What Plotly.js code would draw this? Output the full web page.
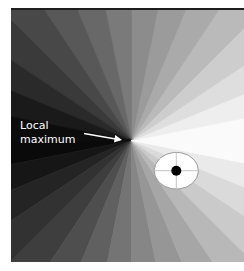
<!DOCTYPE html>
<html>
<head>
<meta charset="utf-8">
<script src="https://cdn.plot.ly/plotly-3.0.1.min.js"></script>
<style>html,body{margin:0;padding:0;background:#fff;}#chart{width:244px;height:271px;}</style>
</head>
<body>
<div id="chart"></div>
<script>
// ---- data (panel units = pixels, origin bottom-left) ----
const sectorStartDeg = [0, 11.25, 22.5, 33.75, 45, 56.25, 67.5, 78.75,
  90, 101.25, 112.5, 123.75, 135, 146.25, 157.5, 168.75,
  180, 191.25, 202.5, 213.75, 225, 236.25, 247.5, 258.75,
  270, 281.25, 292.5, 303.75, 315, 326.25, 337.5, 348.75];
const sectorSpanDeg = 11.25;
const sectorGray = [250, 238, 222, 205, 186, 170, 155, 140,
  122, 104, 88, 72, 58, 42, 26, 12,
  10, 22, 36, 50, 62, 78, 96, 116,
  134, 150, 166, 184, 202, 218, 234, 250];
const maxPointX = [120.5];
const maxPointY = [121.5];
const ellipseCenterX = [165.3];
const ellipseCenterY = [91.3];
const ellipseRadiusX = [22];
const ellipseRadiusY = [18.3];
const labelText = ['Local<br>maximum'];
const arrowTailX = [71.5];
const arrowTailY = [128.7];
const labelX = [7];
const labelY = [130];

const traces = [];
const R = 600;
const toRad = d => d * Math.PI / 180;
sectorStartDeg.forEach((a0, i) => {
  const a1 = a0 + sectorSpanDeg;
  const am = (a0 + a1) / 2;
  const cx = maxPointX[0], cy = maxPointY[0];
  const g = sectorGray[i];
  const col = `rgb(${g},${g},${g})`;
  traces.push({
    type: 'scatter', mode: 'lines', fill: 'toself', fillcolor: col,
    line: {color: col, width: 0.8},
    x: [cx, cx + R * Math.cos(toRad(a0)), cx + R * Math.cos(toRad(am)), cx + R * Math.cos(toRad(a1)), cx],
    y: [cy, cy + R * Math.sin(toRad(a0)), cy + R * Math.sin(toRad(am)), cy + R * Math.sin(toRad(a1)), cy],
    hoverinfo: 'skip', showlegend: false
  });
});

// ellipse
const ex = [], ey = [];
for (let k = 0; k <= 72; k++) {
  const t = k / 72 * 2 * Math.PI;
  ex.push(ellipseCenterX[0] + ellipseRadiusX[0] * Math.cos(t));
  ey.push(ellipseCenterY[0] + ellipseRadiusY[0] * Math.sin(t));
}
traces.push({type: 'scatter', mode: 'lines', fill: 'toself', fillcolor: '#ffffff',
  line: {color: '#9a9a9a', width: 1}, x: ex, y: ey, hoverinfo: 'skip', showlegend: false});
// crosshair
traces.push({type: 'scatter', mode: 'lines', line: {color: '#c4c4c4', width: 1},
  x: [ellipseCenterX[0] - ellipseRadiusX[0], ellipseCenterX[0] + ellipseRadiusX[0], null, ellipseCenterX[0], ellipseCenterX[0]],
  y: [ellipseCenterY[0], ellipseCenterY[0], null, ellipseCenterY[0] - ellipseRadiusY[0], ellipseCenterY[0] + ellipseRadiusY[0]],
  hoverinfo: 'skip', showlegend: false});
// dot
traces.push({type: 'scatter', mode: 'markers', x: ellipseCenterX, y: ellipseCenterY,
  marker: {color: '#000', size: 10}, hoverinfo: 'skip', showlegend: false});

const layout = {
  width: 244, height: 271,
  margin: {l: 11, r: 0, t: 9, b: 9, pad: 0},
  paper_bgcolor: '#ffffff', plot_bgcolor: '#ffffff',
  xaxis: {range: [0, 233], visible: false, fixedrange: true},
  yaxis: {range: [0, 253], visible: false, fixedrange: true},
  showlegend: false,
  shapes: [
    {type: 'line', xref: 'paper', yref: 'paper', x0: 0, x1: 1, y0: 1, y1: 1,
     line: {color: '#1e1e1e', width: 2}}
  ],
  annotations: [
    {x: maxPointX[0] - 9.5, y: maxPointY[0] + 0.5, xref: 'x', yref: 'y',
     ax: arrowTailX[0], ay: arrowTailY[0], axref: 'x', ayref: 'y',
     text: '', showarrow: true, arrowhead: 2, arrowsize: 1, arrowwidth: 1.5,
     arrowcolor: '#ffffff', standoff: 0},
    {x: labelX[0], y: labelY[0], xref: 'x', yref: 'y', xanchor: 'left', yanchor: 'middle',
     align: 'left', showarrow: false, text: labelText[0],
     font: {family: 'DejaVu Sans', size: 11, color: '#ffffff'}}
  ]
};

Plotly.newPlot('chart', traces, layout, {staticPlot: true, displayModeBar: false});
</script>
</body>
</html>
